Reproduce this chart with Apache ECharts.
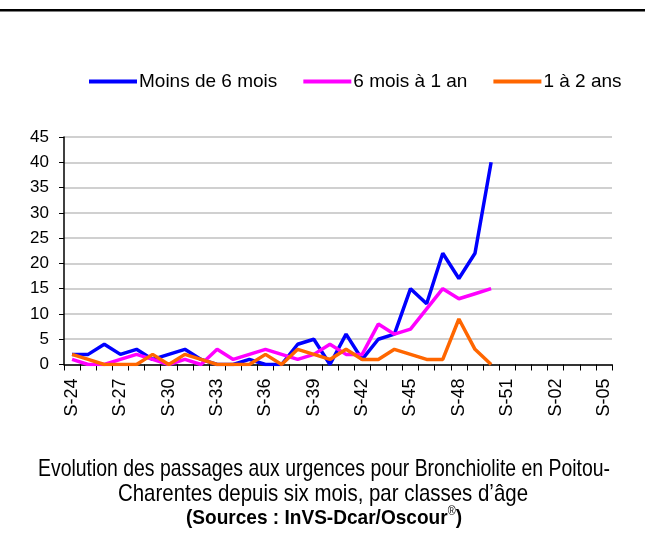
<!DOCTYPE html>
<html>
<head>
<meta charset="utf-8">
<script src="https://cdn.jsdelivr.net/npm/echarts@6/dist/echarts.min.js"></script>
<style>
  html, body { margin: 0; padding: 0; background: #fff; }
  #chart { width: 645px; height: 539px; }
</style>
</head>
<body>
<div id="chart"></div>
<script>
// semaines S-24 .. S-52 puis S-01 .. S-05
const weeks = [
  "S-24","S-25","S-26","S-27","S-28","S-29","S-30","S-31","S-32","S-33",
  "S-34","S-35","S-36","S-37","S-38","S-39","S-40","S-41","S-42","S-43",
  "S-44","S-45","S-46","S-47","S-48","S-49","S-50","S-51","S-52","S-01",
  "S-02","S-03","S-04","S-05"
];
const seriesNames = ["Moins de 6 mois", "6 mois à 1 an", "1 à 2 ans"];
const moins6mois = [2,2,4,2,3,1,2,3,1,0,0,1,0,0,4,5,0,6,1,5,6,15,12,22,17,22,40];
const mois6a1an  = [1,0,0,1,2,1,0,1,0,3,1,2,3,2,1,2,4,2,2,8,6,7,11,15,13,14,15];
const ans1a2     = [2,1,0,0,0,2,0,2,1,0,0,0,2,0,3,2,1,3,1,1,3,2,1,1,9,3,0];
const yTicks = [0, 5, 10, 15, 20, 25, 30, 35, 40, 45];
const colors = ["#0000FF", "#FF00FF", "#FF6600"];

const titleLines = [
  "Evolution des passages aux urgences pour Bronchiolite en Poitou-",
  "Charentes depuis six mois, par classes d\u2019âge"
];
const sourceText = "(Sources : InVS-Dcar/Oscour";

const font = "'Liberation Sans', Arial, sans-serif";

// largeur mesurée pour "rétrécir" le texte du titre (police condensée)
const ctx = document.createElement("canvas").getContext("2d");
function fitScale(txt, css, target) {
  ctx.font = css;
  return target / ctx.measureText(txt).width;
}
const s1 = fitScale(titleLines[0], "24px 'Liberation Sans'", 572);
const s2 = fitScale(titleLines[1], "24px 'Liberation Sans'", 410);
const s3 = fitScale(sourceText + ")", "bold 21px 'Liberation Sans'", 268);

const chart = echarts.init(document.getElementById("chart"));

const option = {
  backgroundColor: "#fff",
  animation: false,
  graphic: [
    { type: "rect", shape: { x: 0, y: 9, width: 645, height: 2.5 }, style: { fill: "#000" } },
    {
      type: "text", x: 324, y: 469, scaleX: s1,
      style: { text: titleLines[0], font: "24px 'Liberation Sans'", fill: "#000",
               textAlign: "center", textVerticalAlign: "middle" }
    },
    {
      type: "text", x: 323, y: 494, scaleX: s2,
      style: { text: titleLines[1], font: "24px 'Liberation Sans'", fill: "#000",
               textAlign: "center", textVerticalAlign: "middle" }
    },
    {
      type: "text", x: 324, y: 518, scaleX: s3,
      style: {
        text: "{b|" + sourceText + "}{s|®}{b|)}",
        textAlign: "center", textVerticalAlign: "middle",
        rich: {
          b: { fontFamily: "Liberation Sans", fontSize: 21, fontWeight: "bold", fill: "#000", lineHeight: 24 },
          s: { fontFamily: "Liberation Sans", fontSize: 12, fill: "#000", lineHeight: 24, verticalAlign: "top" }
        }
      }
    }
  ],
  legend: {
    data: seriesNames,
    top: 67,
    left: 84,
    icon: "rect",
    itemWidth: 48,
    itemHeight: 4,
    itemGap: 26,
    textStyle: { fontFamily: font, fontSize: 19, color: "#000", padding: [0, 0, 0, -3] }
  },
  grid: { left: 64, right: 33, top: 137, bottom: 174.5 },
  xAxis: {
    type: "category",
    data: weeks,
    boundaryGap: true,
    axisLine: { lineStyle: { color: "#000", width: 1.5 } },
    axisTick: { show: true, interval: 0, length: 6, lineStyle: { color: "#000" } },
    axisLabel: {
      interval: 2,
      rotate: 90,
      fontFamily: font,
      fontSize: 18,
      color: "#000",
      margin: 14
    },
    splitLine: { show: false }
  },
  yAxis: {
    type: "value",
    min: yTicks[0],
    max: yTicks[yTicks.length - 1],
    interval: 5,
    axisLine: { show: true, lineStyle: { color: "#000", width: 1.5 } },
    axisTick: { show: true, length: 5, lineStyle: { color: "#000" } },
    axisLabel: { fontFamily: font, fontSize: 17, color: "#000", margin: 15 },
    splitLine: { show: true, lineStyle: { color: "#c0c0c0", width: 1.5 } }
  },
  series: [moins6mois, mois6a1an, ans1a2].map((d, i) => ({
    name: seriesNames[i],
    type: "line",
    data: d,
    symbol: "none",
    color: colors[i],
    lineStyle: { width: 3.5, color: colors[i] }
  }))
};
chart.setOption(option);
</script>
</body>
</html>
